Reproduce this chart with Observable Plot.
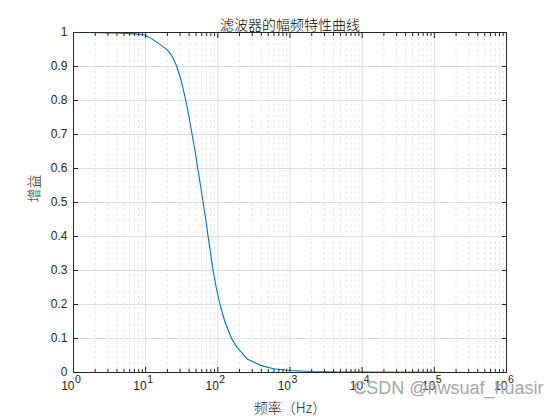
<!DOCTYPE html>
<html>
<head>
<meta charset="utf-8">
<script src="https://cdn.jsdelivr.net/npm/d3@7"></script>
<script src="https://cdn.jsdelivr.net/npm/@observablehq/plot@0.6"></script>
<style>
  html, body { margin: 0; padding: 0; background: #fff; }
  #chart { position: relative; width: 560px; height: 420px; }
</style>
</head>
<body>
<div id="chart"></div>
<script>
// Frequency (Hz) and gain
const freq = [1.6, 3, 5, 7, 9, 10, 12, 14.4, 17, 20, 22, 24, 27, 31, 36, 40, 44, 48.5, 52.7, 57.5, 62.6, 68, 73.3, 79.5, 86, 95, 107, 125, 155, 185, 255, 389, 595, 1000, 2000, 5000, 10000, 100000, 156000];
const gain = [1.0, 0.999, 0.998, 0.996, 0.994, 0.991, 0.982, 0.971, 0.96, 0.948, 0.938, 0.924, 0.9, 0.86, 0.8, 0.75, 0.7, 0.65, 0.6, 0.55, 0.5, 0.45, 0.4, 0.35, 0.3, 0.25, 0.2, 0.15, 0.1, 0.074, 0.04, 0.021, 0.011, 0.006, 0.003, 0.0015, 0.001, 0.0003, 0.0002];

const xMajor = [1, 10, 100, 1000, 10000, 100000, 1000000];
const xExponents = ["0", "1", "2", "3", "4", "5", "6"];
const yTicks = [0, 0.1, 0.2, 0.3, 0.4, 0.5, 0.6, 0.7, 0.8, 0.9, 1];
const yTickLabels = ["0", "0.1", "0.2", "0.3", "0.4", "0.5", "0.6", "0.7", "0.8", "0.9", "1"];
const title = "滤波器的幅频特性曲线";
const xLabel = "频率（Hz）";
const yLabel = "增益";
const watermark = "CSDN @nwsuaf_huasir";

const xMinor = [];
for (let k = 0; k < 6; k++) for (let m = 2; m <= 9; m++) xMinor.push(m * Math.pow(10, k));

const data = freq.map((f, i) => ({f, g: gain[i]}));
const xt = xMajor.map((v, i) => ({v, e: xExponents[i]}));
const yt = yTicks.map((v, i) => ({v, t: yTickLabels[i]}));

const axisColor = "#262626";
const gridColor = "#dedede";
const numFont = "'Liberation Sans', Arial, sans-serif";
const cjkFont = "'Noto Sans CJK SC', sans-serif";

const chart = Plot.plot({
  width: 560,
  height: 420,
  marginLeft: 73,
  marginRight: 54,
  marginTop: 32,
  marginBottom: 48,
  style: {background: "#fff", overflow: "visible"},
  x: {type: "log", domain: [1, 1e6], axis: null},
  y: {domain: [0, 1], axis: null},
  marks: [
    Plot.ruleX(xMinor, {x: d => d, stroke: "#e2e2e2", strokeDasharray: "2.5,3", strokeWidth: 1}),
    Plot.ruleX(xMajor, {x: d => d, stroke: gridColor, strokeWidth: 1}),
    Plot.ruleY(yTicks, {y: d => d, stroke: gridColor, strokeWidth: 1}),
    Plot.line(data, {x: "f", y: "g", stroke: "#0072BD", strokeWidth: 1.1}),
    Plot.frame({stroke: axisColor, strokeWidth: 1}),
    // inward ticks
    Plot.axisX({anchor: "bottom", ticks: xMajor, tickSize: -5, tickFormat: () => "", stroke: axisColor, label: null}),
    Plot.axisX({anchor: "top", ticks: xMajor, tickSize: -5, tickFormat: () => "", stroke: axisColor, label: null}),
    Plot.axisX({anchor: "bottom", ticks: xMinor, tickSize: -3, tickFormat: () => "", stroke: axisColor, label: null}),
    Plot.axisX({anchor: "top", ticks: xMinor, tickSize: -3, tickFormat: () => "", stroke: axisColor, label: null}),
    Plot.axisY({anchor: "left", ticks: yTicks, tickSize: -5, tickFormat: () => "", stroke: axisColor, label: null}),
    Plot.axisY({anchor: "right", ticks: yTicks, tickSize: -5, tickFormat: () => "", stroke: axisColor, label: null}),
    // x tick labels 10^k
    Plot.text(xt, {x: "v", text: () => "10", frameAnchor: "bottom", textAnchor: "end", dx: 1, dy: 17, fontSize: 12, fontFamily: numFont, fill: axisColor}),
    Plot.text(xt, {x: "v", text: "e", frameAnchor: "bottom", textAnchor: "start", dx: 1.5, dy: 10, fontSize: 10.5, fontFamily: numFont, fill: axisColor}),
    // y tick labels
    Plot.text(yt, {y: "v", text: "t", frameAnchor: "left", textAnchor: "end", dx: -6, fontSize: 12, fontFamily: numFont, fill: axisColor}),
    // title and labels
    Plot.text([title], {text: d => d, frameAnchor: "top", dy: -12, fontSize: 14, fontFamily: cjkFont, fontWeight: 300, fill: "#000"}),
    Plot.text([xLabel], {text: d => d, frameAnchor: "bottom", dy: 40, fontSize: 14, fontFamily: cjkFont, fontWeight: 300, fill: axisColor}),
    Plot.text([yLabel], {text: d => d, frameAnchor: "left", dx: -39, rotate: -90, fontSize: 14, fontFamily: cjkFont, fontWeight: 300, fill: axisColor}),
    Plot.text([watermark], {text: d => d, frameAnchor: "bottom-right", textAnchor: "end", dx: 37, dy: 21, fontSize: 18, fontFamily: numFont, fill: "#a6a6a6"})
  ]
});

document.getElementById("chart").appendChild(chart);
</script>
</body>
</html>
